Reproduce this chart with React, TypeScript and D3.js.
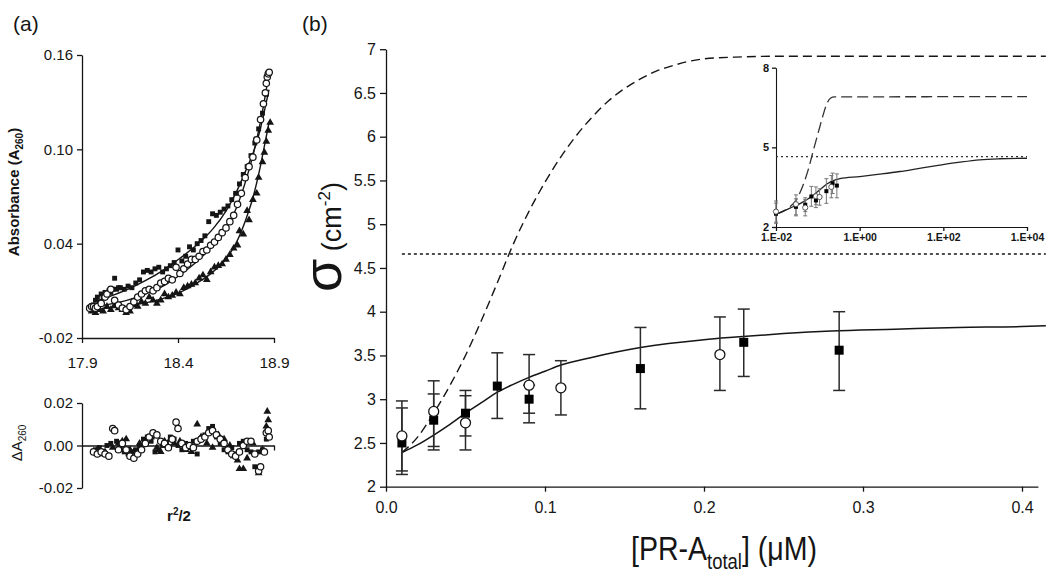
import React, { useEffect, useRef } from "react";
import * as d3 from "d3";

const FONT = "'Liberation Sans', Arial, Helvetica, sans-serif";
const INK = "#151515";

// ---------- Panel (a): absorbance vs r^2/2 ----------
const aXTicks = [17.9, 18.4, 18.9];
const aYTicks = [-0.02, 0.04, 0.1, 0.16];
const resYTicks = [-0.02, 0.0, 0.02];

const sqR = [17.96, 17.97, 17.98, 17.99, 18.0, 18.01, 18.02, 18.03, 18.04, 18.05, 18.06, 18.07, 18.08, 18.09, 18.1, 18.12, 18.14, 18.16, 18.18, 18.2, 18.22, 18.24, 18.26, 18.28, 18.3, 18.32, 18.34, 18.36, 18.38, 18.4, 18.42, 18.44, 18.46, 18.48, 18.5, 18.52, 18.54, 18.56, 18.58, 18.6, 18.62, 18.64, 18.66, 18.68, 18.7, 18.72, 18.74, 18.76, 18.78, 18.8, 18.82, 18.84, 18.86];
const sqA = [0.001, 0.004, 0.006, 0.003, 0.008, 0.006, 0.009, 0.007, 0.01, 0.009, 0.011, 0.018, 0.011, 0.012, 0.012, 0.011, 0.013, 0.012, 0.015, 0.017, 0.022, 0.023, 0.022, 0.024, 0.025, 0.022, 0.024, 0.026, 0.028, 0.036, 0.029, 0.032, 0.038, 0.036, 0.04, 0.042, 0.045, 0.054, 0.059, 0.058, 0.06, 0.062, 0.064, 0.068, 0.072, 0.078, 0.084, 0.089, 0.096, 0.104, 0.113, 0.123, 0.135];

const ciR = [17.94, 17.95, 17.96, 17.97, 17.98, 18.0, 18.02, 18.03, 18.05, 18.07, 18.09, 18.11, 18.13, 18.15, 18.17, 18.19, 18.21, 18.23, 18.25, 18.27, 18.29, 18.31, 18.33, 18.35, 18.37, 18.39, 18.41, 18.43, 18.45, 18.47, 18.49, 18.51, 18.53, 18.55, 18.57, 18.59, 18.61, 18.63, 18.65, 18.67, 18.69, 18.71, 18.73, 18.75, 18.77, 18.79, 18.81, 18.83, 18.845, 18.855, 18.86, 18.865, 18.87, 18.875];
const ciA = [-0.001, 0.0, 0.0, -0.001, 0.0, 0.002, 0.006, 0.008, 0.011, 0.004, 0.001, -0.001, -0.002, 0.0, 0.003, 0.006, 0.008, 0.01, 0.011, 0.01, 0.012, 0.015, 0.016, 0.018, 0.017, 0.025, 0.021, 0.024, 0.027, 0.03, 0.03, 0.032, 0.035, 0.036, 0.039, 0.041, 0.044, 0.047, 0.05, 0.054, 0.058, 0.065, 0.072, 0.082, 0.089, 0.095, 0.106, 0.119, 0.129, 0.136, 0.142, 0.146, 0.148, 0.149];

const trR = [17.95, 17.97, 17.99, 18.01, 18.03, 18.05, 18.07, 18.09, 18.11, 18.13, 18.15, 18.17, 18.19, 18.21, 18.23, 18.25, 18.27, 18.29, 18.31, 18.33, 18.35, 18.37, 18.39, 18.41, 18.43, 18.45, 18.47, 18.49, 18.51, 18.53, 18.55, 18.57, 18.59, 18.61, 18.63, 18.65, 18.67, 18.69, 18.71, 18.72, 18.74, 18.76, 18.77, 18.79, 18.81, 18.82, 18.84, 18.85, 18.86, 18.87, 18.88];
const trA = [-0.003, -0.004, -0.002, -0.003, 0.0, -0.002, 0.001, -0.001, -0.002, -0.004, -0.003, 0.001, 0.0, 0.003, 0.002, 0.006, 0.004, 0.002, 0.004, 0.008, 0.006, 0.007, 0.009, 0.008, 0.012, 0.013, 0.014, 0.015, 0.018, 0.02, 0.017, 0.022, 0.025, 0.026, 0.027, 0.03, 0.033, 0.037, 0.039, 0.048, 0.046, 0.061, 0.055, 0.068, 0.072, 0.082, 0.092, 0.098, 0.105, 0.112, 0.117];

const fitR = [17.968, 18.063, 18.15, 18.237, 18.324, 18.41, 18.497, 18.584, 18.653, 18.705, 18.758, 18.792, 18.827, 18.853, 18.874];
const fitSq = [0.0031, 0.0073, 0.0116, 0.0169, 0.0232, 0.0307, 0.0391, 0.0497, 0.0614, 0.0731, 0.0879, 0.098, 0.112, 0.126, 0.138];
const fitCi = [-0.0001, 0.002, 0.0046, 0.0084, 0.0131, 0.0201, 0.0285, 0.0391, 0.0497, 0.063, 0.082, 0.097, 0.116, 0.133, 0.149];
const fitTr = [-0.0018, -0.0007, 0.0006, 0.0025, 0.0052, 0.009, 0.0148, 0.0222, 0.0307, 0.041, 0.057, 0.07, 0.088, 0.104, 0.117];

// residuals
const resCiR = [17.96, 17.98, 18.0, 18.02, 18.04, 18.06, 18.07, 18.09, 18.11, 18.13, 18.15, 18.17, 18.19, 18.21, 18.23, 18.25, 18.27, 18.29, 18.31, 18.33, 18.35, 18.37, 18.39, 18.4, 18.42, 18.44, 18.46, 18.48, 18.5, 18.52, 18.54, 18.56, 18.58, 18.6, 18.62, 18.64, 18.66, 18.68, 18.7, 18.72, 18.74, 18.76, 18.78, 18.8, 18.82, 18.83, 18.85, 18.86, 18.87, 18.875];
const resCi = [-0.003, -0.004, -0.003, -0.004, -0.005, 0.008, 0.007, -0.002, 0.001, -0.002, -0.005, -0.006, -0.004, -0.002, 0.001, 0.004, 0.006, 0.005, 0.002, 0.001, -0.001, 0.003, 0.011, 0.008, 0.001, -0.001, 0.0, -0.001, 0.002, 0.003, 0.004, 0.006, 0.007, 0.005, 0.003, 0.001, -0.002, -0.004, -0.005, -0.003, 0.0, 0.002, 0.002, -0.004, -0.012, -0.01, -0.003, 0.006, 0.007, 0.004];
const resSqR = [17.97, 17.99, 18.01, 18.03, 18.05, 18.08, 18.1, 18.12, 18.14, 18.16, 18.18, 18.2, 18.22, 18.24, 18.26, 18.28, 18.3, 18.32, 18.34, 18.36, 18.38, 18.4, 18.42, 18.44, 18.46, 18.48, 18.5, 18.52, 18.54, 18.56, 18.58, 18.6, 18.62, 18.64, 18.66, 18.68, 18.7, 18.72, 18.74, 18.76, 18.78, 18.8, 18.82, 18.84, 18.86];
const resSq = [-0.002, -0.001, -0.003, 0.0, 0.001, 0.002, -0.001, -0.003, -0.004, -0.003, -0.002, 0.0, 0.003, 0.004, 0.002, -0.003, -0.002, 0.0, 0.001, 0.004, 0.003, 0.0, -0.002, 0.001, -0.001, 0.002, -0.004, 0.003, 0.005, 0.008, 0.009, 0.004, 0.001, -0.002, -0.003, -0.001, -0.004, 0.001, 0.002, -0.002, -0.003, -0.01, -0.003, -0.002, 0.003];
const resTrR = [17.98, 18.0, 18.02, 18.06, 18.09, 18.11, 18.13, 18.15, 18.17, 18.2, 18.23, 18.26, 18.29, 18.31, 18.33, 18.36, 18.38, 18.41, 18.44, 18.47, 18.5, 18.52, 18.55, 18.58, 18.61, 18.64, 18.67, 18.69, 18.71, 18.72, 18.74, 18.76, 18.79, 18.82, 18.84, 18.86, 18.865, 18.87];
const resTr = [-0.002, -0.004, -0.003, -0.001, 0.001, 0.002, 0.003, -0.002, -0.003, 0.001, 0.002, 0.004, -0.001, -0.003, 0.002, 0.003, 0.001, 0.002, -0.002, -0.003, 0.01, 0.004, 0.001, -0.001, 0.005, 0.003, 0.0, -0.005, -0.007, -0.011, -0.011, -0.006, 0.001, -0.013, -0.002, 0.009, 0.016, 0.012];

// ---------- Panel (b): sigma vs [PR-A total] ----------
const bXTicks = [0, 0.1, 0.2, 0.3, 0.4];
const bYTicks = [2, 2.5, 3, 3.5, 4, 4.5, 5, 5.5, 6, 6.5, 7];

const filledX = [0.01, 0.03, 0.05, 0.07, 0.09, 0.16, 0.225, 0.285];
const filledY = [2.5, 2.76, 2.84, 3.15, 3.0, 3.35, 3.65, 3.56];
const filledLo = [2.14, 2.46, 2.58, 2.78, 2.84, 2.89, 3.26, 3.1];
const filledHi = [2.9, 3.06, 3.1, 3.53, 3.16, 3.82, 4.03, 4.0];

const openX = [0.01, 0.03, 0.05, 0.09, 0.11, 0.21];
const openY = [2.58, 2.86, 2.73, 3.16, 3.13, 3.51];
const openLo = [2.18, 2.42, 2.42, 2.73, 2.82, 3.1];
const openHi = [2.98, 3.21, 3.04, 3.51, 3.44, 3.94];

const solidX = [0.01, 0.02, 0.03, 0.04, 0.05, 0.06, 0.07, 0.08, 0.09, 0.1, 0.11, 0.13, 0.16, 0.2, 0.22, 0.25, 0.28, 0.32, 0.36, 0.4, 0.415];
const solidY = [2.39, 2.48, 2.59, 2.71, 2.84, 2.96, 3.08, 3.17, 3.25, 3.32, 3.39, 3.48, 3.59, 3.68, 3.71, 3.75, 3.78, 3.8, 3.82, 3.83, 3.84];
const dashX = [0.01, 0.02, 0.03, 0.04, 0.05, 0.06, 0.07, 0.08, 0.09, 0.1, 0.11, 0.12, 0.13, 0.14, 0.15, 0.16, 0.17, 0.18, 0.19, 0.2, 0.22, 0.25, 0.415];
const dashY = [2.39, 2.57, 2.84, 3.15, 3.5, 3.9, 4.33, 4.77, 5.15, 5.48, 5.77, 6.02, 6.23, 6.41, 6.55, 6.66, 6.75, 6.81, 6.86, 6.89, 6.91, 6.92, 6.92];
const dotX = [0.01, 0.415];
const dotY = [4.66, 4.66];

// inset (log x)
const inXTicks = [0.01, 1, 100, 10000];
const inYTicks = [2, 5, 8];
const inSolidX = [0.01, 0.0216, 0.0395, 0.071, 0.112, 0.168, 0.213, 0.337, 1, 3, 9.1, 27, 82, 246, 740, 2200, 10000];
const inSolidY = [2.48, 2.71, 2.9, 3.15, 3.4, 3.63, 3.72, 3.82, 3.9, 3.99, 4.09, 4.21, 4.33, 4.44, 4.53, 4.57, 4.59];
const inDashX = [0.01, 0.02, 0.03, 0.045, 0.06, 0.08, 0.1, 0.13, 0.16, 0.2, 0.25, 10000];
const inDashY = [2.48, 2.72, 3.0, 3.6, 4.2, 4.95, 5.5, 6.15, 6.6, 6.85, 6.9, 6.91];
const inDotX = [0.01, 10000];
const inDotY = [4.65, 4.65];

function styleAxis(g: any, size: number, weight = "normal", family = FONT) {
  g.attr("font-family", family).attr("font-size", size).attr("font-weight", weight);
  g.selectAll("text").attr("fill", INK);
  g.select(".domain").attr("stroke", INK).attr("stroke-width", 1.3);
  g.selectAll(".tick line").attr("stroke", INK).attr("stroke-width", 1.3);
}

export default function App() {
  const ref = useRef<SVGSVGElement | null>(null);

  useEffect(() => {
    const svg = d3.select(ref.current);
    svg.selectAll("*").remove();

    // ================= Panel (a) =================
    const aX = d3.scaleLinear().domain([17.9, 18.9]).range([82, 274]);
    const aY = d3.scaleLinear().domain([-0.02, 0.16]).range([338, 55]);
    const rY = d3.scaleLinear().domain([-0.02, 0.02]).range([488, 403]);

    const gA = svg.append("g");
    gA.append("g")
      .attr("transform", `translate(${aX(17.9)},0)`)
      .call(d3.axisLeft(aY).tickValues(aYTicks).tickFormat((d: any) => d.toFixed(2)).tickSize(5).tickSizeOuter(0).tickPadding(4))
      .call((g: any) => styleAxis(g, 15));
    gA.append("g")
      .attr("transform", `translate(0,${aY(-0.02)})`)
      .call(d3.axisBottom(aX).tickValues(aXTicks).tickFormat((d: any) => d.toFixed(1)).tickSize(5).tickSizeOuter(0).tickPadding(14))
      .call((g: any) => styleAxis(g, 15.5));

    const lineA = (xs: number[], ys: number[]) =>
      d3.line<number>().x((_, i) => aX(xs[i])).y((d) => aY(d)).curve(d3.curveMonotoneX)(ys);
    [fitSq, fitCi, fitTr].forEach((f) =>
      gA.append("path").attr("d", lineA(fitR, f)).attr("fill", "none").attr("stroke", INK).attr("stroke-width", 1.4)
    );

    const sqSym = d3.symbol().type(d3.symbolSquare).size(24);
    const trSym = d3.symbol().type(d3.symbolTriangle).size(26);
    const drawPts = (g: any, xs: number[], ys: number[], kind: string, xs_: any, ys_: any) => {
      xs.forEach((x, i) => {
        const px = xs_(x), py = ys_(ys[i]);
        if (kind === "sq") g.append("path").attr("d", sqSym()).attr("transform", `translate(${px},${py})`).attr("fill", INK);
        else if (kind === "tr") g.append("path").attr("d", trSym()).attr("transform", `translate(${px},${py})`).attr("fill", INK);
        else g.append("circle").attr("cx", px).attr("cy", py).attr("r", 3.2).attr("fill", "#fff").attr("stroke", INK).attr("stroke-width", 1.25);
      });
    };
    drawPts(gA, sqR, sqA, "sq", aX, aY);
    drawPts(gA, trR, trA, "tr", aX, aY);
    drawPts(gA, ciR, ciA, "ci", aX, aY);

    // residual panel
    gA.append("g")
      .attr("transform", `translate(${aX(17.9)},0)`)
      .call(d3.axisLeft(rY).tickValues(resYTicks).tickFormat((d: any) => d.toFixed(2)).tickSize(5).tickSizeOuter(0).tickPadding(4))
      .call((g: any) => styleAxis(g, 15));
    gA.append("g")
      .attr("transform", `translate(0,${rY(0)})`)
      .call(d3.axisBottom(aX).tickValues([18.9]).tickFormat(() => "").tickSize(5).tickSizeOuter(0))
      .call((g: any) => styleAxis(g, 15));
    drawPts(gA, resSqR, resSq, "sq", aX, rY);
    drawPts(gA, resTrR, resTr, "tr", aX, rY);
    drawPts(gA, resCiR, resCi, "ci", aX, rY);

    // panel (a) labels
    svg.append("text").attr("x", 13).attr("y", 31).attr("font-family", FONT).attr("font-size", 21).attr("fill", INK).text("(a)");
    const yl = svg.append("text").attr("transform", "translate(19,192) rotate(-90)").attr("text-anchor", "middle")
      .attr("font-family", FONT).attr("font-size", 15).attr("font-weight", "bold").attr("fill", INK);
    yl.append("tspan").text("Absorbance (A");
    yl.append("tspan").attr("font-size", 10).attr("dy", 4).text("260");
    yl.append("tspan").attr("dy", -4).text(")");
    const dl = svg.append("text").attr("transform", "translate(22,443) rotate(-90)").attr("text-anchor", "middle")
      .attr("font-family", FONT).attr("font-size", 15).attr("fill", INK);
    dl.append("tspan").text("ΔA");
    dl.append("tspan").attr("font-size", 10).attr("dy", 4).text("260");
    const rl = svg.append("text").attr("x", 179).attr("y", 521).attr("text-anchor", "middle")
      .attr("font-family", FONT).attr("font-size", 15).attr("font-weight", "bold").attr("fill", INK);
    rl.append("tspan").text("r");
    rl.append("tspan").attr("font-size", 10).attr("dy", -6).text("2");
    rl.append("tspan").attr("dy", 6).text("/2");

    // ================= Panel (b) =================
    const bX = d3.scaleLinear().domain([0, 0.41]).range([386, 386 + 0.41 * 1590]);
    const bY = d3.scaleLinear().domain([2, 7]).range([486.7, 49.2]);
    const gB = svg.append("g");
    gB.append("g").attr("transform", `translate(${bX(0)},0)`)
      .call(d3.axisLeft(bY).tickValues(bYTicks).tickFormat((d: any) => String(d)).tickSize(6).tickSizeOuter(0).tickPadding(4))
      .call((g: any) => styleAxis(g, 16));
    gB.append("g").attr("transform", `translate(0,${bY(2)})`)
      .call(d3.axisBottom(bX).tickValues(bXTicks).tickFormat((d: any) => d.toFixed(1)).tickSize(5).tickSizeOuter(0).tickPadding(10))
      .call((g: any) => styleAxis(g, 16));

    const lineB = (xs: number[], ys: number[], sx: any, sy: any) =>
      d3.line<number>().x((_, i) => sx(xs[i])).y((d) => sy(d)).curve(d3.curveMonotoneX)(ys);
    gB.append("path").attr("d", lineB(dotX, dotY, bX, bY)).attr("fill", "none").attr("stroke", INK).attr("stroke-width", 1.6).attr("stroke-dasharray", "3,3");
    gB.append("path").attr("d", lineB(dashX, dashY, bX, bY)).attr("fill", "none").attr("stroke", INK).attr("stroke-width", 1.4).attr("stroke-dasharray", "9,5");
    gB.append("path").attr("d", lineB(solidX, solidY, bX, bY)).attr("fill", "none").attr("stroke", INK).attr("stroke-width", 1.5);

    const errBars = (g: any, xs: number[], lo: number[], hi: number[], sx: any, sy: any, cap: number, col: string, w: number) => {
      xs.forEach((x, i) => {
        const px = sx(x);
        g.append("line").attr("x1", px).attr("x2", px).attr("y1", sy(lo[i])).attr("y2", sy(hi[i])).attr("stroke", col).attr("stroke-width", w);
        [lo[i], hi[i]].forEach((v) =>
          g.append("line").attr("x1", px - cap / 2).attr("x2", px + cap / 2).attr("y1", sy(v)).attr("y2", sy(v)).attr("stroke", col).attr("stroke-width", w)
        );
      });
    };
    errBars(gB, filledX, filledLo, filledHi, bX, bY, 12, "#2a2a2a", 1.5);
    errBars(gB, openX, openLo, openHi, bX, bY, 12, "#2a2a2a", 1.5);
    filledX.forEach((x, i) =>
      gB.append("rect").attr("x", bX(x) - 4.5).attr("y", bY(filledY[i]) - 4.5).attr("width", 9).attr("height", 9).attr("fill", "#000")
    );
    openX.forEach((x, i) =>
      gB.append("circle").attr("cx", bX(x)).attr("cy", bY(openY[i])).attr("r", 5).attr("fill", "#fff").attr("stroke", INK).attr("stroke-width", 1.3)
    );

    // inset
    const iX = d3.scaleLog().domain([0.01, 10000]).range([776, 1027]);
    const iY = d3.scaleLinear().domain([2, 8]).range([227, 67.7]);
    const gI = svg.append("g");
    gI.append("g").attr("transform", `translate(${iX(0.01)},0)`)
      .call(d3.axisLeft(iY).tickValues(inYTicks).tickFormat((d: any) => String(d)).tickSize(4).tickSizeOuter(0).tickPadding(3))
      .call((g: any) => styleAxis(g, 11, "bold"));
    gI.append("g").attr("transform", `translate(0,${iY(2)})`)
      .call(d3.axisBottom(iX).tickValues(inXTicks).tickFormat((d: any) => {
        const e = Math.round(Math.log10(d));
        return "1.E" + (e < 0 ? "-" : "+") + String(Math.abs(e)).padStart(2, "0");
      }).tickSize(4).tickSizeOuter(0).tickPadding(3))
      .call((g: any) => styleAxis(g, 10.5, "bold"));
    gI.selectAll(".domain").attr("stroke-width", 1.1);
    gI.append("path").attr("d", lineB(inDotX, inDotY, iX, iY)).attr("fill", "none").attr("stroke", "#333").attr("stroke-width", 1.2).attr("stroke-dasharray", "2,3");
    gI.append("path").attr("d", lineB(inDashX, inDashY, iX, iY)).attr("fill", "none").attr("stroke", "#333").attr("stroke-width", 1.3).attr("stroke-dasharray", "11,5");
    gI.append("path").attr("d", lineB(inSolidX, inSolidY, iX, iY)).attr("fill", "none").attr("stroke", "#222").attr("stroke-width", 1.3);
    errBars(gI, filledX, filledLo, filledHi, iX, iY, 4, "#777", 1);
    errBars(gI, openX, openLo, openHi, iX, iY, 4, "#777", 1);
    filledX.forEach((x, i) =>
      gI.append("rect").attr("x", iX(x) - 2).attr("y", iY(filledY[i]) - 2).attr("width", 4).attr("height", 4).attr("fill", "#000")
    );
    openX.forEach((x, i) =>
      gI.append("circle").attr("cx", iX(x)).attr("cy", iY(openY[i])).attr("r", 2.6).attr("fill", "#fff").attr("stroke", "#444").attr("stroke-width", 0.9)
    );

    // panel (b) labels
    svg.append("text").attr("x", 302).attr("y", 31).attr("font-family", FONT).attr("font-size", 21).attr("fill", INK).text("(b)");
    const sl = svg.append("text").attr("transform", "translate(341,237) rotate(-90)").attr("text-anchor", "middle")
      .attr("font-family", FONT).attr("fill", INK);
    sl.append("tspan").attr("font-size", 54).text("σ");
    sl.append("tspan").attr("font-size", 27).text(" (cm");
    sl.append("tspan").attr("font-size", 17).attr("dy", -11).text("-2");
    sl.append("tspan").attr("font-size", 27).attr("dy", 11).text(")");

    const xt = svg.append("text").attr("transform", "translate(724,560) scale(0.84,1)").attr("text-anchor", "middle")
      .attr("font-family", FONT).attr("font-size", 34).attr("fill", INK);
    xt.append("tspan").text("[PR-A");
    xt.append("tspan").attr("font-size", 22).attr("dy", 9).text("total");
    xt.append("tspan").attr("dy", -9).text("] (μM)");
  }, []);

  return (
    <svg
      ref={ref}
      width={1050}
      height={579}
      viewBox="0 0 1050 579"
      style={{ position: "absolute", left: 0, top: 0, background: "#fff" }}
    />
  );
}
